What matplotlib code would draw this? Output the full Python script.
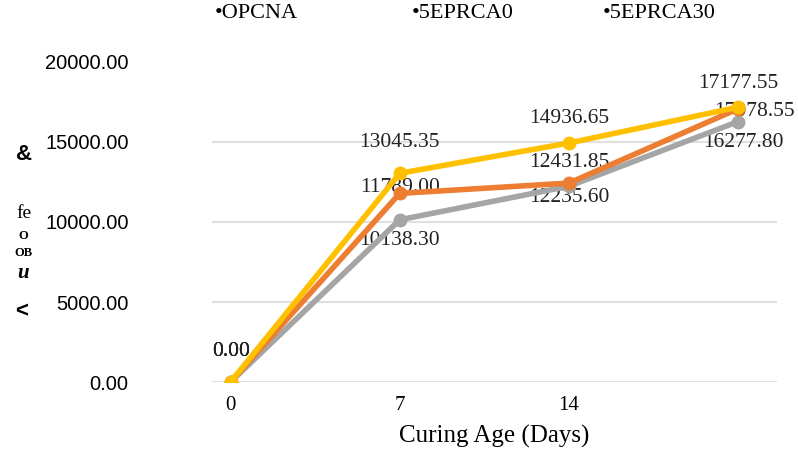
import matplotlib.pyplot as plt
import numpy as np

# data
categories = ['0', '7', '14', '']
series_names = ['OPCNA', '5EPRCA0', '5EPRCA30']
opcna = [0.00, 10138.30, 12235.60, 16277.80]
eprca0 = [0.00, 11789.00, 12431.85, 17078.55]
eprca30 = [0.00, 13045.35, 14936.65, 17177.55]
yticks = [0, 5000, 10000, 15000, 20000]

colors = ['#A5A5A5', '#ED7D31', '#FFC000']
# label offsets (points) per series / point
offsets = [
    [(0, 22), (0, -15), (0, -8), (4, -15)],
    [(0, 22), (0, 4), (0, 15), (12, -2)],
    [(0, 22), (0, 22), (0, 18), (0, 17)],
]

serif = 'Liberation Serif'
sans = 'Liberation Sans'

fig = plt.figure(figsize=(7.98, 4.59), dpi=100)
ax = fig.add_axes([212 / 798, 1 - 382 / 459, (777 - 212) / 798, 320 / 459])

x = np.arange(len(categories))
for vals, c, name in zip([opcna, eprca0, eprca30], colors, series_names):
    ax.plot(x, vals, color=c, lw=4, marker='o', ms=9, label=name, zorder=3,
            solid_capstyle='round')

for vals, offs in zip([opcna, eprca0, eprca30], offsets):
    for xi, v, (dx, dy) in zip(x, vals, offs):
        ax.annotate(f'{v:.2f}', (xi, v), xytext=(dx, dy), textcoords='offset points',
                    ha='center', va='center', fontsize=15.5, family=serif,
                    color='#222222', zorder=2.5)

ax.set_xlim(-0.11, 3.23)
ax.set_ylim(0, 20000)
ax.set_yticks(yticks)
ax.set_yticklabels([f'{t:.2f}' for t in yticks], family=sans, fontsize=14.5)
ax.set_xticks(x)
ax.set_xticklabels(categories, family=serif, fontsize=15)
ax.tick_params(length=0, pad=10)
ax.tick_params(axis='y', pad=60)
ax.grid(axis='y', color='#E0E0E0', lw=1.5)
ax.yaxis.get_gridlines()[-1].set_visible(False)
ax.set_axisbelow(True)
for s in ax.spines.values():
    s.set_visible(False)

ax.set_xlabel('Curing Age (Days)', family=serif, fontsize=18, labelpad=7)

# legend as plain text
for name, xpos in zip(series_names, [215, 412, 603]):
    fig.text(xpos / 798, 1 - 14 / 459, '\u2022' + name, family=serif, fontsize=16,
             va='center', ha='left')

# garbled axis title fragments
fig.text(24 / 798, 1 - 154 / 459, '&', family=sans, fontsize=16, weight='bold', ha='center', va='center')
fig.text(24 / 798, 1 - 213 / 459, 'fe', family=serif, fontsize=14, ha='center', va='center')
fig.text(23 / 798, 1 - 236 / 459, 'O', family=serif, fontsize=9, weight='bold', ha='center', va='center')
fig.text(23 / 798, 1 - 253 / 459, 'OB', family=serif, fontsize=9, weight='bold', ha='center', va='center')
fig.text(23 / 798, 1 - 273 / 459, 'u', family=serif, fontsize=15, weight='bold', style='italic', ha='center', va='center')
fig.text(22 / 798, 1 - 312 / 459, '<', family=sans, fontsize=16, weight='bold', ha='center', va='center')

fig.savefig('out.png', dpi=100)
